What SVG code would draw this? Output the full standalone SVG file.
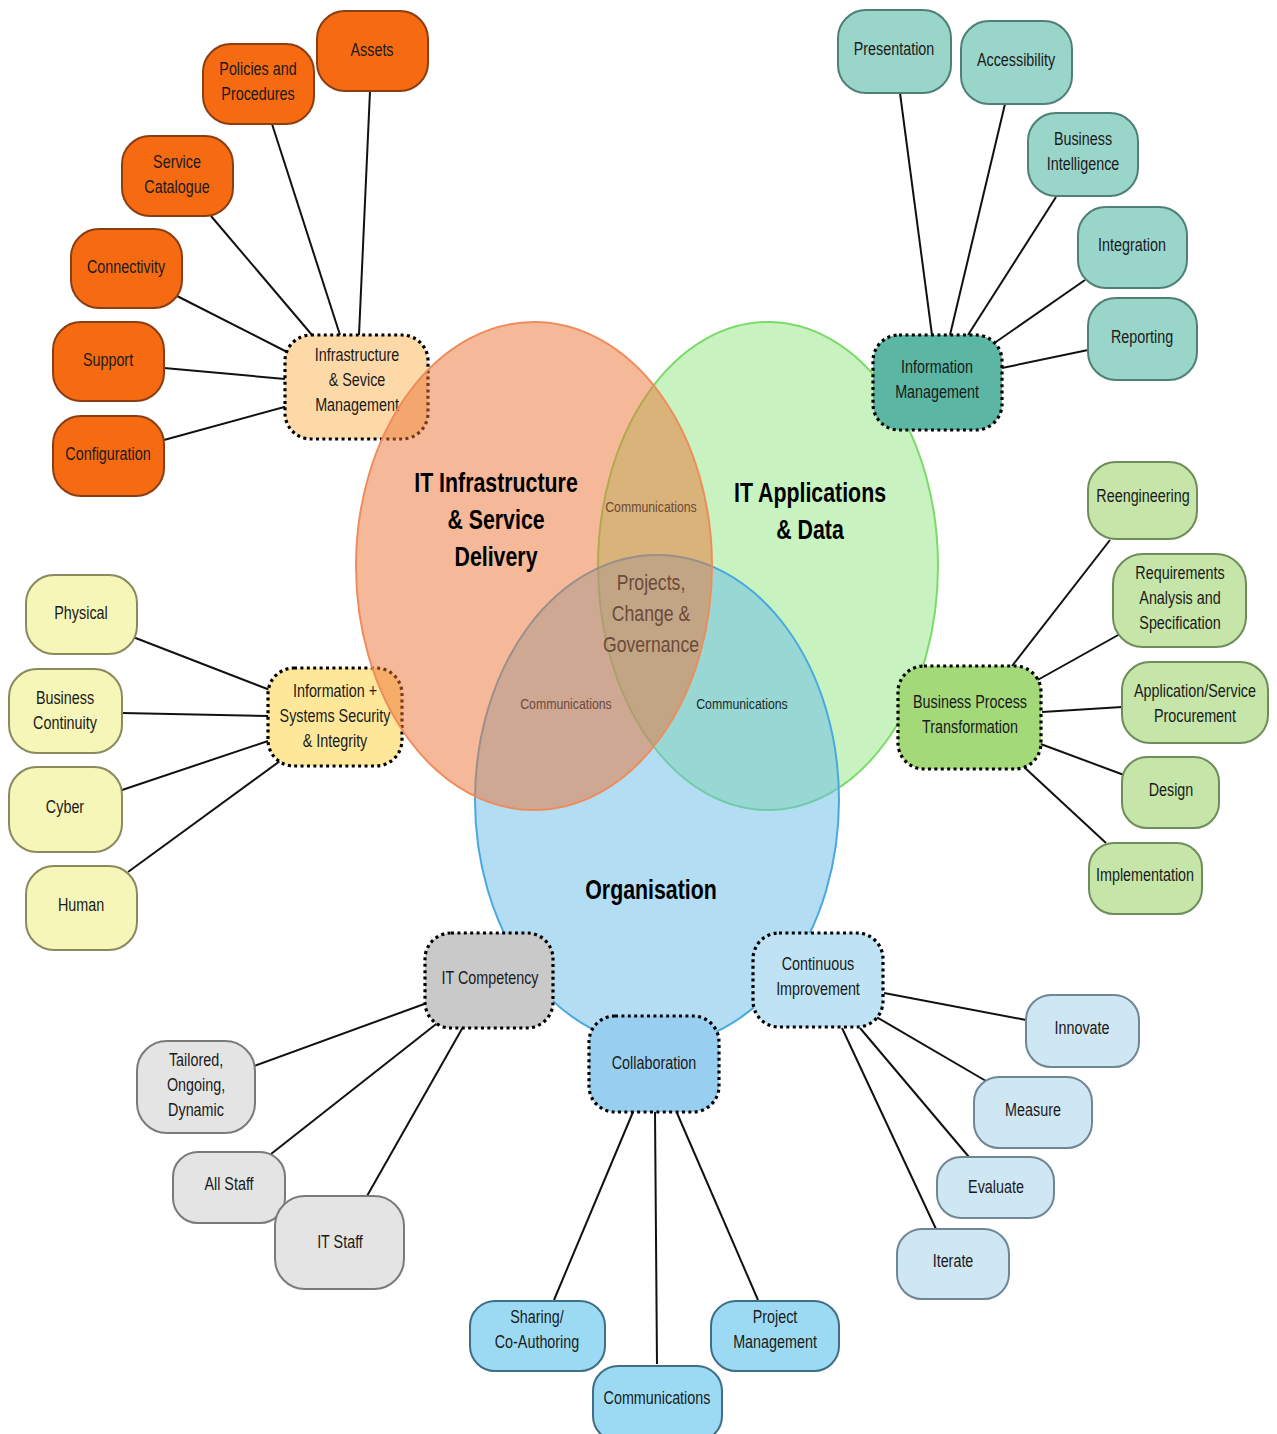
<svg xmlns="http://www.w3.org/2000/svg" width="1277" height="1434" viewBox="0 0 1277 1434">
<style>
text{font-family:"Liberation Sans",Arial,sans-serif;fill:#1a1a1a;text-anchor:middle}
.n{font-size:17.5px}
.title{font-size:27px;font-weight:bold;fill:#000}
.comm{font-size:15px}
.o{fill:#F66B12;stroke:#8A3E14;stroke-width:2}
.t{fill:#9AD5CA;stroke:#4F8078;stroke-width:2}
.y{fill:#F6F6B8;stroke:#8A8A5E;stroke-width:2}
.g{fill:#C6E6A9;stroke:#6F8C5B;stroke-width:2}
.gr{fill:#E4E4E4;stroke:#7A7A7A;stroke-width:2}
.b{fill:#9CDAF4;stroke:#3F6F85;stroke-width:2}
.lb{fill:#CFE6F3;stroke:#6F8694;stroke-width:2}
.d{stroke:#000;stroke-width:3.2;stroke-dasharray:3 3.4}
#connectors line{stroke:#111;stroke-width:2}
</style>

<g id="connectors">
<line x1="370" y1="91" x2="359" y2="335"/>
<line x1="272" y1="124" x2="340" y2="335"/>
<line x1="211" y1="216" x2="312" y2="335"/>
<line x1="177" y1="296" x2="291" y2="354"/>
<line x1="164" y1="368" x2="285" y2="379"/>
<line x1="164" y1="440" x2="288" y2="406"/>
<line x1="900" y1="93" x2="932" y2="335"/>
<line x1="1005" y1="104" x2="950" y2="335"/>
<line x1="1056" y1="197" x2="968" y2="335"/>
<line x1="1085" y1="280" x2="993" y2="344"/>
<line x1="1088" y1="350" x2="1002" y2="368"/>
<line x1="133" y1="637" x2="270" y2="690"/>
<line x1="122" y1="713" x2="268" y2="716"/>
<line x1="119" y1="791" x2="268" y2="741"/>
<line x1="128" y1="872" x2="280" y2="761"/>
<line x1="1110" y1="540" x2="1012" y2="666"/>
<line x1="1120" y1="634" x2="1034" y2="682"/>
<line x1="1122" y1="707" x2="1042" y2="712"/>
<line x1="1124" y1="775" x2="1038" y2="743"/>
<line x1="1106" y1="843" x2="1024" y2="767"/>
<line x1="254" y1="1066" x2="427" y2="1003"/>
<line x1="271" y1="1154" x2="440" y2="1021"/>
<line x1="367" y1="1196" x2="463" y2="1027"/>
<line x1="554" y1="1300" x2="633" y2="1112"/>
<line x1="657" y1="1364" x2="655" y2="1112"/>
<line x1="758" y1="1300" x2="677" y2="1113"/>
<line x1="1026" y1="1020" x2="884" y2="993"/>
<line x1="986" y1="1081" x2="873" y2="1015"/>
<line x1="969" y1="1157" x2="860" y2="1028"/>
<line x1="936" y1="1229" x2="842" y2="1028"/>
</g>

<g id="node-infra-service">
<rect class="d" x="285" y="335" width="143" height="104" rx="26" fill="#FDD9A8"/>
<g transform="translate(357,0) scale(0.82,1)"><text class="n"><tspan x="0" y="361">Infrastructure</tspan><tspan x="0" y="386">&amp; Sevice</tspan><tspan x="0" y="411">Management</tspan></text></g>
</g>
<g id="node-info-security">
<rect class="d" x="268" y="668" width="134" height="98" rx="26" fill="#FFE79A"/>
<g transform="translate(335,0) scale(0.82,1)"><text class="n"><tspan x="0" y="697">Information +</tspan><tspan x="0" y="722">Systems Security</tspan><tspan x="0" y="747">&amp; Integrity</tspan></text></g>
</g>

<g id="venn">
<ellipse cx="768" cy="566" rx="170" ry="244" fill="#92E582" fill-opacity="0.5" stroke="#7ADB6A" stroke-width="2"/>
<ellipse cx="657" cy="800" rx="182" ry="245" fill="#67BBE8" fill-opacity="0.5" stroke="#4AA8E0" stroke-width="2"/>
<ellipse cx="534" cy="566" rx="178" ry="244" fill="#EC7436" fill-opacity="0.5" stroke="#EF8C5C" stroke-width="2"/>
<g transform="translate(496,0) scale(0.79,1)"><text class="title"><tspan x="0" y="492">IT Infrastructure</tspan><tspan x="0" y="529">&amp; Service</tspan><tspan x="0" y="566">Delivery</tspan></text></g>
<g transform="translate(810,0) scale(0.79,1)"><text class="title"><tspan x="0" y="502">IT Applications</tspan><tspan x="0" y="539">&amp; Data</tspan></text></g>
<g transform="translate(651,0) scale(0.79,1)"><text class="title" y="899">Organisation</text></g>
<g transform="translate(651,0) scale(0.82,1)"><text class="comm" y="512" style="fill:#6B4A36">Communications</text></g>
<g transform="translate(566,0) scale(0.82,1)"><text class="comm" y="709" style="fill:#6B4A3E">Communications</text></g>
<g transform="translate(742,0) scale(0.82,1)"><text class="comm" y="709" style="fill:#1E2A2A">Communications</text></g>
<g transform="translate(651,0) scale(0.82,1)"><text style="font-size:21.5px;fill:#6B4A3A"><tspan x="0" y="590">Projects,</tspan><tspan x="0" y="621">Change &amp;</tspan><tspan x="0" y="652">Governance</tspan></text></g>
</g>

<g id="node-assets"><rect class="o" x="317" y="11" width="111" height="80" rx="28"/><g transform="translate(372,0) scale(0.82,1)"><text class="n" y="56">Assets</text></g></g>
<g id="node-policies"><rect class="o" x="203" y="44" width="111" height="80" rx="28"/><g transform="translate(258,0) scale(0.82,1)"><text class="n"><tspan x="0" y="75">Policies and</tspan><tspan x="0" y="100">Procedures</tspan></text></g></g>
<g id="node-service-catalogue"><rect class="o" x="122" y="136" width="111" height="80" rx="28"/><g transform="translate(177,0) scale(0.82,1)"><text class="n"><tspan x="0" y="168">Service</tspan><tspan x="0" y="193">Catalogue</tspan></text></g></g>
<g id="node-connectivity"><rect class="o" x="71" y="229" width="111" height="79" rx="28"/><g transform="translate(126,0) scale(0.82,1)"><text class="n" y="273">Connectivity</text></g></g>
<g id="node-support"><rect class="o" x="53" y="322" width="111" height="79" rx="28"/><g transform="translate(108,0) scale(0.82,1)"><text class="n" y="366">Support</text></g></g>
<g id="node-configuration"><rect class="o" x="53" y="416" width="111" height="80" rx="28"/><g transform="translate(108,0) scale(0.82,1)"><text class="n" y="460">Configuration</text></g></g>

<g id="node-presentation"><rect class="t" x="838" y="10" width="113" height="83" rx="28"/><g transform="translate(894,0) scale(0.82,1)"><text class="n" y="55">Presentation</text></g></g>
<g id="node-accessibility"><rect class="t" x="961" y="21" width="111" height="83" rx="28"/><g transform="translate(1016,0) scale(0.82,1)"><text class="n" y="66">Accessibility</text></g></g>
<g id="node-bi"><rect class="t" x="1028" y="113" width="110" height="83" rx="28"/><g transform="translate(1083,0) scale(0.82,1)"><text class="n"><tspan x="0" y="145">Business</tspan><tspan x="0" y="170">Intelligence</tspan></text></g></g>
<g id="node-integration"><rect class="t" x="1078" y="207" width="109" height="81" rx="28"/><g transform="translate(1132,0) scale(0.82,1)"><text class="n" y="251">Integration</text></g></g>
<g id="node-reporting"><rect class="t" x="1088" y="298" width="109" height="82" rx="28"/><g transform="translate(1142,0) scale(0.82,1)"><text class="n" y="343">Reporting</text></g></g>
<g id="node-info-management"><rect class="d" x="873" y="335" width="129" height="95" rx="26" fill="#5BB7A4"/><g transform="translate(937,0) scale(0.82,1)"><text class="n"><tspan x="0" y="373">Information</tspan><tspan x="0" y="398">Management</tspan></text></g></g>

<g id="node-physical"><rect class="y" x="26" y="575" width="111" height="79" rx="28"/><g transform="translate(81,0) scale(0.82,1)"><text class="n" y="619">Physical</text></g></g>
<g id="node-business-continuity"><rect class="y" x="9" y="669" width="113" height="84" rx="28"/><g transform="translate(65,0) scale(0.82,1)"><text class="n"><tspan x="0" y="704">Business</tspan><tspan x="0" y="729">Continuity</tspan></text></g></g>
<g id="node-cyber"><rect class="y" x="9" y="767" width="113" height="85" rx="28"/><g transform="translate(65,0) scale(0.82,1)"><text class="n" y="813">Cyber</text></g></g>
<g id="node-human"><rect class="y" x="26" y="866" width="111" height="84" rx="28"/><g transform="translate(81,0) scale(0.82,1)"><text class="n" y="911">Human</text></g></g>

<g id="node-reengineering"><rect class="g" x="1088" y="462" width="109" height="77" rx="28"/><g transform="translate(1143,0) scale(0.82,1)"><text class="n" y="502">Reengineering</text></g></g>
<g id="node-requirements"><rect class="g" x="1113" y="554" width="133" height="93" rx="30"/><g transform="translate(1180,0) scale(0.82,1)"><text class="n"><tspan x="0" y="579">Requirements</tspan><tspan x="0" y="604">Analysis and</tspan><tspan x="0" y="629">Specification</tspan></text></g></g>
<g id="node-procurement"><rect class="g" x="1122" y="662" width="146" height="81" rx="28"/><g transform="translate(1195,0) scale(0.82,1)"><text class="n"><tspan x="0" y="697">Application/Service</tspan><tspan x="0" y="722">Procurement</tspan></text></g></g>
<g id="node-design"><rect class="g" x="1122" y="757" width="97" height="71" rx="25"/><g transform="translate(1171,0) scale(0.82,1)"><text class="n" y="796">Design</text></g></g>
<g id="node-implementation"><rect class="g" x="1089" y="843" width="113" height="71" rx="25"/><g transform="translate(1145,0) scale(0.82,1)"><text class="n" y="881">Implementation</text></g></g>
<g id="node-bpt"><rect class="d" x="898" y="666" width="143" height="103" rx="26" fill="#A4D97A"/><g transform="translate(970,0) scale(0.82,1)"><text class="n"><tspan x="0" y="708">Business Process</tspan><tspan x="0" y="733">Transformation</tspan></text></g></g>

<g id="node-tailored"><rect class="gr" x="137" y="1041" width="118" height="92" rx="30"/><g transform="translate(196,0) scale(0.82,1)"><text class="n"><tspan x="0" y="1066">Tailored,</tspan><tspan x="0" y="1091">Ongoing,</tspan><tspan x="0" y="1116">Dynamic</tspan></text></g></g>
<g id="node-all-staff"><rect class="gr" x="173" y="1152" width="112" height="71" rx="25"/><g transform="translate(229,0) scale(0.82,1)"><text class="n" y="1190">All Staff</text></g></g>
<g id="node-it-staff"><rect class="gr" x="275" y="1196" width="129" height="93" rx="30"/><g transform="translate(340,0) scale(0.82,1)"><text class="n" y="1248">IT Staff</text></g></g>
<g id="node-it-competency"><rect class="d" x="425" y="933" width="128" height="95" rx="26" fill="#C9C9C9"/><g transform="translate(490,0) scale(0.82,1)"><text class="n" y="984">IT Competency</text></g></g>

<g id="node-sharing"><rect class="b" x="470" y="1301" width="135" height="70" rx="25"/><g transform="translate(537,0) scale(0.82,1)"><text class="n"><tspan x="0" y="1323">Sharing/</tspan><tspan x="0" y="1348">Co-Authoring</tspan></text></g></g>
<g id="node-communications"><rect class="b" x="593" y="1366" width="129" height="75" rx="25"/><g transform="translate(657,0) scale(0.82,1)"><text class="n" y="1404">Communications</text></g></g>
<g id="node-project-management"><rect class="b" x="711" y="1301" width="128" height="70" rx="25"/><g transform="translate(775,0) scale(0.82,1)"><text class="n"><tspan x="0" y="1323">Project</tspan><tspan x="0" y="1348">Management</tspan></text></g></g>
<g id="node-collaboration"><rect class="d" x="589" y="1016" width="130" height="96" rx="26" fill="#98CFF0"/><g transform="translate(654,0) scale(0.82,1)"><text class="n" y="1069">Collaboration</text></g></g>

<g id="node-innovate"><rect class="lb" x="1026" y="995" width="113" height="72" rx="25"/><g transform="translate(1082,0) scale(0.82,1)"><text class="n" y="1034">Innovate</text></g></g>
<g id="node-measure"><rect class="lb" x="974" y="1077" width="118" height="71" rx="25"/><g transform="translate(1033,0) scale(0.82,1)"><text class="n" y="1116">Measure</text></g></g>
<g id="node-evaluate"><rect class="lb" x="937" y="1157" width="117" height="61" rx="24"/><g transform="translate(996,0) scale(0.82,1)"><text class="n" y="1193">Evaluate</text></g></g>
<g id="node-iterate"><rect class="lb" x="897" y="1229" width="112" height="70" rx="25"/><g transform="translate(953,0) scale(0.82,1)"><text class="n" y="1267">Iterate</text></g></g>
<g id="node-continuous-improvement"><rect class="d" x="753" y="933" width="130" height="94" rx="26" fill="#BFE2F4"/><g transform="translate(818,0) scale(0.82,1)"><text class="n"><tspan x="0" y="970">Continuous</tspan><tspan x="0" y="995">Improvement</tspan></text></g></g>
</svg>
